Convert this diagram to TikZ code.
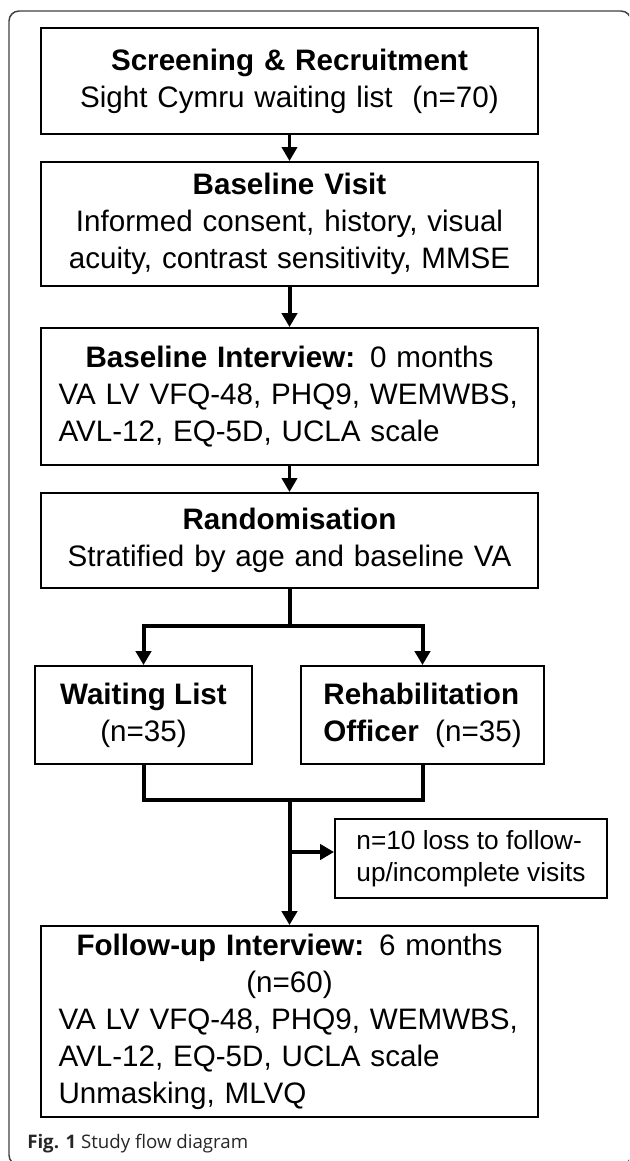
\documentclass[tikz,border=0pt]{standalone}
\usepackage{fontspec}
\setmainfont{Liberation Sans}
\newfontfamily\captionfont{Open Sans}
\usetikzlibrary{arrows.meta}

\begin{document}
\begin{tikzpicture}[x=0.75pt,y=0.75pt,yscale=-1,xscale=1,
  stepbox/.style={draw, line width=1.5pt, inner sep=0pt, minimum width=372.75pt, text width=346.5pt, align=center, font=\fontsize{22.2pt}{27.8pt}\selectfont},
  armbox/.style={draw, line width=1.5pt, inner sep=0pt, minimum height=73.5pt, font=\fontsize{22.2pt}{27.8pt}\selectfont},
  lossbox/.style={draw, line width=1.5pt, inner sep=0pt, minimum width=204pt, minimum height=59.25pt, align=left, font=\fontsize{19.7pt}{24pt}\selectfont},
  flow/.style={line width=3pt, -{Triangle[length=10.5pt,width=11.5pt]}},
  thinflow/.style={flow, line width=2.3pt},
  link/.style={line width=3pt}]
\useasboundingbox (0,0) rectangle (629,1161);
%Rounded frame
\begin{scope}
\clip (0,0) rectangle (629,1161);
\draw [color=black!75, line width=1.1pt, rounded corners=7.5pt] (9,11) rectangle (631,1165);
\end{scope}
% Text Node
\node (screen) at (289.5,81) [stepbox, minimum height=79.5pt] {\textbf{Screening \& Recruitment}\\Sight Cymru waiting list\ \ (n=70)};
% Text Node
\node (visit) at (289.5,224) [stepbox, minimum height=93pt] {\textbf{Baseline Visit}\\Informed consent, history, visual\\acuity, contrast sensitivity, MMSE};
% Text Node
\node (base) at (289.5,396.5) [stepbox, minimum height=102.75pt, align=left] {\centering\textbf{Baseline Interview:} 0 months\par\raggedright VA LV VFQ-48, PHQ9, WEMWBS,\\AVL-12, EQ-5D, UCLA scale};
% Text Node
\node (rand) at (289.5,540.5) [stepbox, minimum height=71.25pt] {\textbf{Randomisation}\\Stratified by age and baseline VA};
% Text Node
\node (wait) at (143.5,715) [armbox, minimum width=162.75pt, align=center] {\textbf{Waiting List}\\(n=35)};
% Text Node
\node (rehab) at (422.5,715) [armbox, minimum width=182.25pt, align=left] {\textbf{Rehabilitation}\\\textbf{Officer}\ \ (n=35)};
% Text Node
\node (loss) at (471,858.5) [lossbox] {n=10 loss to follow-\\up/incomplete visits};
% Text Node
\node (follow) at (289.5,1021.5) [stepbox, minimum height=143.25pt, align=left] {\centering\textbf{Follow-up Interview:} 6 months\\(n=60)\par\raggedright VA LV VFQ-48, PHQ9, WEMWBS,\\AVL-12, EQ-5D, UCLA scale\\Unmasking, MLVQ};
% Text Node
\node (caption) at (27,1148) [anchor=base west, inner sep=0pt, font=\captionfont\fontsize{14pt}{16pt}\selectfont, text=black!85] {\textbf{Fig. 1} Study flow diagram};
%Junctions
\coordinate (split) at (289.5,626);
\coordinate (merge) at (289.5,800);
\coordinate (drop) at (289.5,852);
%Straight Lines
\draw [thinflow] (screen) -- (visit);
\draw [flow] (visit) -- (base);
\draw [thinflow] (base) -- (rand);
\draw [link] (rand.south) -- (split);
\draw [flow] (split) -| (wait.north);
\draw [flow] (split) -| (rehab.north);
\draw [link] (wait.south) |- (merge) -| (rehab.south);
\draw [flow] (merge) -- (follow.north);
\draw [flow] (drop) -- (drop -| loss.west);
\end{tikzpicture}
\end{document}
